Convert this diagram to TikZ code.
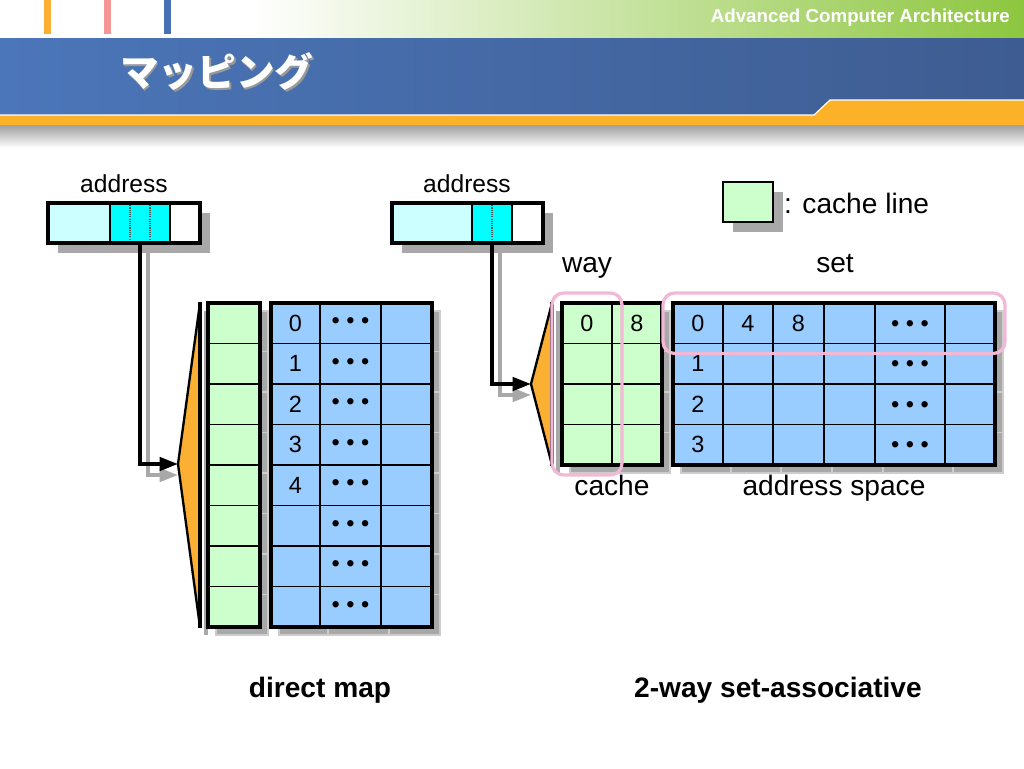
\documentclass[tikz,border=0pt]{standalone}
\usepackage{fontspec}
\setmainfont{Liberation Sans}
\newfontfamily\jpfont{Noto Sans CJK JP}
\usetikzlibrary{arrows.meta,positioning,fit,backgrounds,calc}
\definecolor{tagcyan}{RGB}{204,255,255}
\definecolor{idxcyan}{RGB}{0,255,255}
\definecolor{linegreen}{RGB}{204,255,204}
\definecolor{memblue}{RGB}{153,204,255}
\definecolor{muxorange}{RGB}{251,176,52}
\definecolor{shadegray}{RGB}{168,168,168}
\definecolor{tickgray}{RGB}{205,205,205}
\definecolor{wayspink}{RGB}{242,184,214}
\definecolor{hdgreen}{RGB}{141,198,63}
\definecolor{hdblueL}{RGB}{75,118,185}
\definecolor{hdblueR}{RGB}{62,92,145}
\definecolor{hdorange}{RGB}{251,178,40}
\definecolor{barpink}{RGB}{244,150,150}
\definecolor{barblue}{RGB}{72,112,180}
\newcommand{\upx}{0.3mm}

\begin{document}
\begin{tikzpicture}[x=0.3mm,y=-0.3mm,
  lbl/.style={font=\fontsize{24}{28}\selectfont,inner sep=0pt},
  addr/.style={font=\fontsize{21}{25}\selectfont,inner sep=0pt},
  num/.style={font=\fontsize{20}{24}\selectfont,inner sep=0pt},
  ttl/.style={font=\fontsize{24}{28}\selectfont\bfseries,inner sep=0pt},
  seg/.style={draw,line width=1.6pt,minimum height=40*\upx,inner sep=0pt,outer sep=0pt},
  gcell/.style={draw,fill=linegreen,line width=1.6pt,minimum width=50*\upx,minimum height=40.5*\upx,
    inner sep=0pt,outer sep=0pt,font=\fontsize{20}{24}\selectfont},
  bcell/.style={gcell,fill=memblue},
  frame/.style={draw,line width=3.2pt},
  shd/.style={fill=shadegray,draw=tickgray,line width=0.9pt},
  wire/.style={line width=3pt,-{Triangle[length=5.5mm,width=4mm]}},
  wayset/.style={draw=wayspink,line width=2.8pt,rounded corners=3.5mm,inner sep=3mm}]
\useasboundingbox (0,0) rectangle (1024,768);

% header
\shade[left color=white,right color=hdgreen] (250,0) rectangle (1024,38);
\fill[muxorange] (44,0) rectangle (51,34);
\fill[barpink] (104,0) rectangle (111,34);
\fill[barblue] (164,0) rectangle (171,34);
\shade[left color=hdblueL,right color=hdblueR] (0,38) rectangle (1024,115);
\shade[top color=gray!75,bottom color=white] (0,125) rectangle (1024,148);
\fill[hdorange] (0,115) -- (814,115) -- (830,100) -- (1024,100) -- (1024,125) -- (0,125) -- cycle;
\draw[white,line width=1pt] (0,115) -- (814,115) -- (830,100) -- (1024,100);
\node[font=\jpfont\bfseries\fontsize{33}{36}\selectfont,text=black!40,anchor=west,inner sep=0pt] (titleshade) at (121.5,73.5) {マッピング};
\node[font=\jpfont\bfseries\fontsize{33}{36}\selectfont,text=white,anchor=west,inner sep=0pt] (title) at (120,72) {マッピング};
\node[font=\fontsize{16}{18}\selectfont\bfseries,text=white,anchor=base east,inner sep=0pt] (course) at (1010,22) {Advanced Computer Architecture};

% direct map
\node[seg,fill=tagcyan,minimum width=62*\upx] (tagL) at (79,223) {};
\node[seg,fill=idxcyan,minimum width=60*\upx,right=0pt of tagL] (idxL) {};
\node[seg,fill=white,minimum width=30*\upx,right=0pt of idxL] (offL) {};
\foreach \f in {1,2}
  \draw[densely dotted,line width=0.9pt,black!70] ($(idxL.north west)!\f/3!(idxL.north east)$) -- ($(idxL.south west)!\f/3!(idxL.south east)$);
\draw[frame] (tagL.north west) rectangle (offL.south east);
\node[addr,anchor=base] (addrL) at (124,192) {address};

\coordinate (tipL) at (178,464);
\fill[muxorange] (200,303) -- (tipL) -- (200,627) -- cycle;
\draw[line width=2pt] (200,303) -- (tipL) -- (200,627);
\draw[line width=3.6pt] (200,302) -- (200,628);
\draw[wire] (idxL.south) |- (tipL);

\foreach \i in {0,...,7}
  \node[gcell,minimum width=52*\upx] (lineL\i) at (234,{323.25+40.5*\i}) {};
\draw[frame] (lineL0.north west) rectangle (lineL7.south east);

\foreach \i in {0,...,7} {
  \node[bcell,minimum width=49*\upx] (memA\i) at (295.5,{323.25+40.5*\i}) {\ifnum\i<5 \i\fi};
  \node[bcell,minimum width=61*\upx,right=0pt of memA\i] (memB\i) {\raisebox{-2pt}{• • •}};
  \node[bcell,minimum width=51*\upx,right=0pt of memB\i] (memC\i) {};
}
\draw[frame] (memA0.north west) rectangle (memC7.south east);

\node[ttl,anchor=base] (dmL) at (320,697) {direct map};

% 2-way set-associative
\node[seg,fill=tagcyan,minimum width=80*\upx] (tagR) at (432,223) {};
\node[seg,fill=idxcyan,minimum width=40*\upx,right=0pt of tagR] (idxR) {};
\node[seg,fill=white,minimum width=31*\upx,right=0pt of idxR] (offR) {};
\draw[densely dotted,line width=0.9pt,black!70] (idxR.north) -- (idxR.south);
\draw[frame] (tagR.north west) rectangle (offR.south east);
\node[addr,anchor=base] (addrR) at (467,192) {address};

\coordinate (tipR) at (531,384);
\fill[muxorange] (552,303) -- (tipR) -- (552,465) -- cycle;
\draw[line width=2pt] (552,303) -- (tipR) -- (552,465);
\draw[line width=3.6pt] (552,302) -- (552,466);
\draw[wire] (idxR.south) |- (tipR);

\foreach \r in {0,...,3} {
  \node[gcell] (wayA\r) at (587,{323.25+40.5*\r}) {\ifnum\r=0 0\fi};
  \node[gcell,right=0pt of wayA\r] (wayB\r) {\ifnum\r=0 8\fi};
}
\draw[frame] (wayA0.north west) rectangle (wayB3.south east);

\foreach \r in {0,...,3}
  \foreach \c/\xc/\w in {1/698/50,2/748/50,3/798.5/51,4/849.5/51,5/910/70,6/970/50}
    \node[bcell,minimum width=\w*\upx] (set\r-\c) at (\xc,{323.25+40.5*\r}) {};
\foreach \r in {0,...,3} {
  \node[num] (blk\r) at (set\r-1) {\r};
  \node[num,yshift=-2pt] (dotR\r) at (set\r-5) {• • •};
}
\node[num] (blk4) at (set0-2) {4};
\node[num] (blk8) at (set0-3) {8};
\draw[frame] (set0-1.north west) rectangle (set3-6.south east);

\node[wayset,fit=(wayA0)(wayA3)] (way) {};
\node[wayset,fit=(set0-1)(set0-6)] (setbox) {};

\node[gcell,minimum height=40*\upx] (key) at (748,202) {};
\node[lbl,anchor=base west] (keyL) at (784,213) {: cache line};

\node[lbl,anchor=base] (wayL) at (587,272) {way};
\node[lbl,anchor=base] (setL) at (835,272) {set};
\node[lbl,anchor=base] (cacheL) at (612,495) {cache};
\node[lbl,anchor=base] (spaceL) at (834,495) {address space};
\node[ttl,anchor=base] (saL) at (778,697) {2-way set-associative};

\begin{scope}[on background layer]
\fill[shadegray] ($(tagL.north west)+(10,10)$) rectangle ($(offL.south east)+(10,10)$);
\fill[shadegray] ($(tagR.north west)+(10,10)$) rectangle ($(offR.south east)+(10,10)$);
\fill[shadegray] ($(key.north west)+(10,10)$) rectangle ($(key.south east)+(10,10)$);
\draw[wire,shadegray] ($(idxL.south)+(8,10)$) |- ($(tipL)+(0,11)$);
\draw[wire,shadegray] ($(idxR.south)+(8,10)$) |- ($(tipR)+(0,11)$);
\draw[shadegray,line width=2.6pt] (206,311) -- (206,635);
\draw[shadegray,line width=2.6pt] (558,311) -- (558,473);
\foreach \n in {lineL,memA,memB,memC} \foreach \i in {0,...,7}
  \draw[shd] ($(\n\i.north west)+(8,8)$) rectangle ($(\n\i.south east)+(8,8)$);
\foreach \r in {0,...,3} {
  \foreach \n in {wayA,wayB}
    \draw[shd] ($(\n\r.north west)+(8,8)$) rectangle ($(\n\r.south east)+(8,8)$);
  \foreach \c in {1,...,6}
    \draw[shd] ($(set\r-\c.north west)+(8,8)$) rectangle ($(set\r-\c.south east)+(8,8)$);
}
\end{scope}
\end{tikzpicture}
\end{document}
